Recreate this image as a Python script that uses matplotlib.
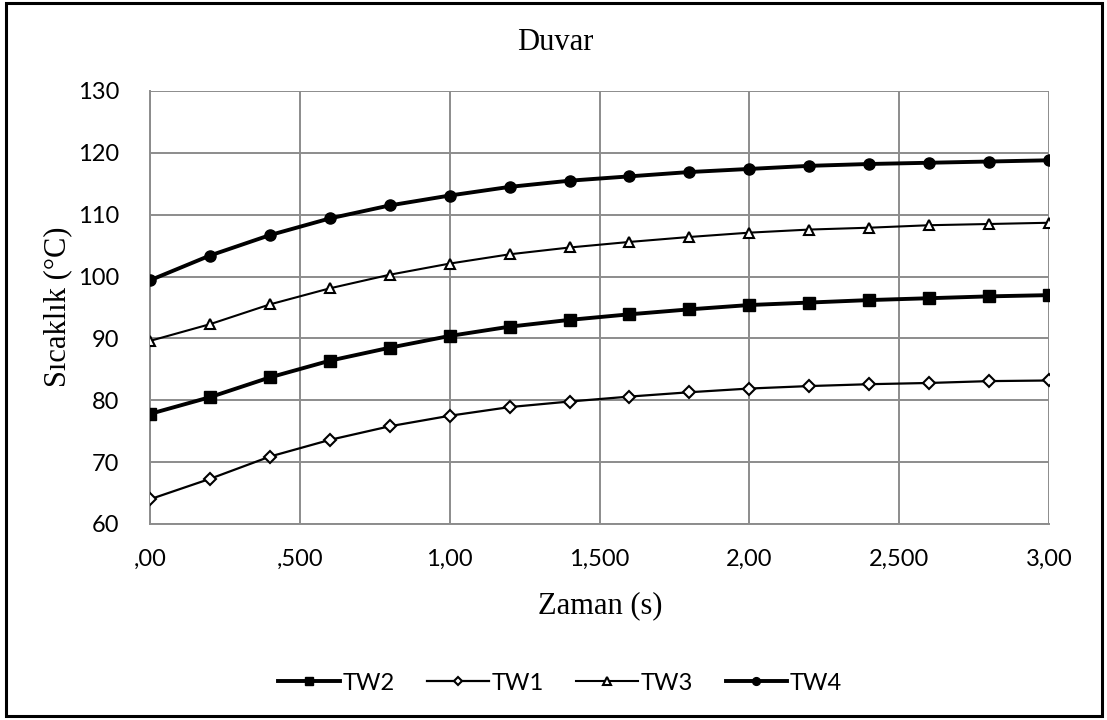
import matplotlib.pyplot as plt
from matplotlib.patches import Rectangle

# -----------------------------
# DATA
# -----------------------------
zaman = [0.0, 0.2, 0.4, 0.6, 0.8, 1.0, 1.2, 1.4, 1.6, 1.8, 2.0, 2.2, 2.4, 2.6, 2.8, 3.0]

tw1 = [64.0, 67.3, 70.9, 73.6, 75.8, 77.5, 78.9, 79.8, 80.6, 81.3, 81.9, 82.3, 82.6, 82.8, 83.1, 83.2]
tw2 = [77.8, 80.5, 83.7, 86.4, 88.5, 90.4, 91.9, 93.0, 93.9, 94.7, 95.4, 95.8, 96.2, 96.5, 96.8, 97.0]
tw3 = [89.6, 92.3, 95.5, 98.1, 100.3, 102.1, 103.6, 104.7, 105.6, 106.4, 107.1, 107.6, 107.9, 108.3, 108.5, 108.7]
tw4 = [99.4, 103.4, 106.7, 109.4, 111.5, 113.1, 114.5, 115.5, 116.2, 116.9, 117.4, 117.9, 118.2, 118.4, 118.6, 118.8]

x_ticks = [0.0, 0.5, 1.0, 1.5, 2.0, 2.5, 3.0]
x_tick_labels = [",00", ",500", "1,00", "1,500", "2,00", "2,500", "3,00"]
y_ticks = [60, 70, 80, 90, 100, 110, 120, 130]

SANS = ["Lato", "DejaVu Sans"]
SERIF = ["Liberation Serif", "DejaVu Serif"]

# -----------------------------
# FIGURE
# -----------------------------
fig = plt.figure(figsize=(11.07, 7.2), dpi=100)
fig.patch.set_facecolor("white")

W, H = 1107, 720
ax = fig.add_axes([150 / W, 1 - 524 / H, (1049 - 150) / W, (524 - 91) / H])

ax.plot(zaman, tw2, color="black", lw=2.8, marker="s", markersize=8,
        markerfacecolor="black", markeredgecolor="black", label="TW2", zorder=4)
ax.plot(zaman, tw1, color="black", lw=1.6, marker="D", markersize=6.5,
        markerfacecolor="white", markeredgecolor="black", markeredgewidth=1.5,
        label="TW1", zorder=4)
ax.plot(zaman, tw3, color="black", lw=1.5, marker="^", markersize=7.5,
        markerfacecolor="white", markeredgecolor="black", markeredgewidth=1.5,
        label="TW3", zorder=4)
ax.plot(zaman, tw4, color="black", lw=2.8, marker="o", markersize=8,
        markerfacecolor="black", markeredgecolor="black", label="TW4", zorder=4)

ax.set_xlim(0, 3.0)
ax.set_ylim(60, 130)
ax.set_xticks(x_ticks)
ax.set_xticklabels(x_tick_labels, fontfamily=SANS, fontsize=17)
ax.set_yticks(y_ticks)
ax.set_yticklabels([str(v) for v in y_ticks], fontfamily=SANS, fontsize=17)
ax.tick_params(length=0, pad=22)
ax.tick_params(axis="x", pad=18)

ax.grid(True, color="#8c8c8c", lw=1.4, zorder=0)
ax.set_axisbelow(True)
for side in ["top", "right"]:
    ax.spines[side].set_visible(False)
for side in ["left", "bottom"]:
    ax.spines[side].set_color("#8c8c8c")
    ax.spines[side].set_linewidth(1.4)

# axis titles
fig.text(600 / W, 1 - 606 / H, "Zaman (s)", family=SERIF, fontsize=22,
         ha="center", va="center")
fig.text(58 / W, 1 - 307 / H, "Sıcaklık (°C)", family=SERIF, fontsize=22,
         ha="center", va="center", rotation=90)

# chart title
fig.text(555 / W, 1 - 42 / H, "Duvar", family=SERIF, fontsize=22,
         ha="center", va="center")

# legend
handles, labels = ax.get_legend_handles_labels()
fig.legend(handles, labels, loc="center", bbox_to_anchor=(560 / W, 1 - 683 / H),
           ncol=4, frameon=False, prop={"family": SANS, "size": 17},
           handlelength=2.6, handletextpad=0.1, columnspacing=1.4,
           markerscale=0.7)

# outer border
fig.patches.append(Rectangle((6 / W, 1 - 716 / H), (1102 - 6) / W, (716 - 3) / H,
                             transform=fig.transFigure, fill=False,
                             edgecolor="black", lw=2.2))

fig.savefig("out.png", dpi=100, facecolor="white")
